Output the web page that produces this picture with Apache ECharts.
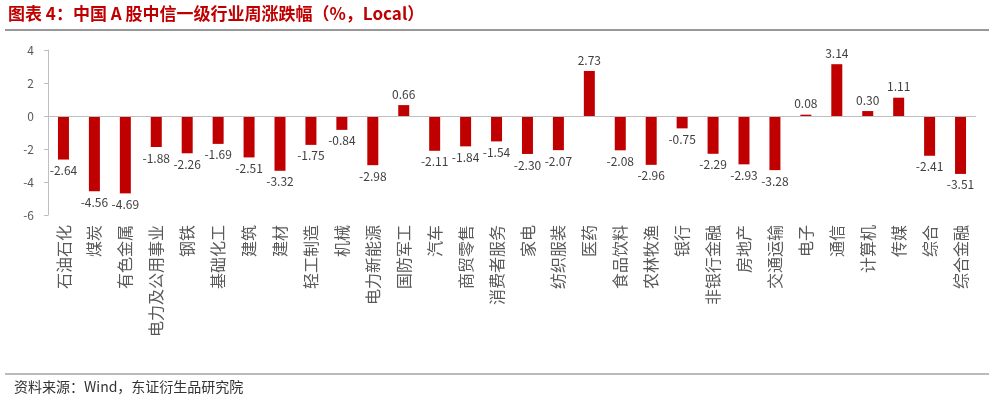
<!DOCTYPE html>
<html><head><meta charset="utf-8">
<script src="https://cdn.jsdelivr.net/npm/echarts@6/dist/echarts.min.js"></script>
<style>body{margin:0;background:#fff}#c{width:994px;height:405px}</style>
</head><body><div id="c"></div>
<script>
const categories = ["石油石化","煤炭","有色金属","电力及公用事业","钢铁","基础化工","建筑","建材","轻工制造","机械","电力新能源","国防军工","汽车","商贸零售","消费者服务","家电","纺织服装","医药","食品饮料","农林牧渔","银行","非银行金融","房地产","交通运输","电子","通信","计算机","传媒","综合","综合金融"];
const values = [-2.64,-4.56,-4.69,-1.88,-2.26,-1.69,-2.51,-3.32,-1.75,-0.84,-2.98,0.66,-2.11,-1.84,-1.54,-2.30,-2.07,2.73,-2.08,-2.96,-0.75,-2.29,-2.93,-3.28,0.08,3.14,0.30,1.11,-2.41,-3.51];
const yTicks = [-6,-4,-2,0,2,4];
const F = '"Noto Sans CJK SC", serif';
const chart = echarts.init(document.getElementById('c'));
chart.setOption({
  animation:false,
  graphic:[
    {type:'text',left:8,top:5,style:{text:'图表 4：中国 A 股中信一级行业周涨跌幅（%，Local）',fill:'#C00000',font:'bold 17px '+F}},
    {type:'line',shape:{x1:5,y1:30,x2:989,y2:30},style:{stroke:'#777',lineWidth:1.5}},
    {type:'line',shape:{x1:5,y1:374,x2:989,y2:374},style:{stroke:'#777',lineWidth:1}},
    {type:'text',left:14,top:380,style:{text:'资料来源：Wind，东证衍生品研究院',fill:'#333',font:'14px '+F}}
  ],
  grid:{left:48,right:18,top:50,bottom:190},
  xAxis:{type:'category',data:categories,position:'bottom',
    axisLine:{show:false},axisTick:{show:false},
    axisLabel:{rotate:90,interval:0,color:'#595959',fontSize:16,fontFamily:F,margin:10}},
  yAxis:{type:'value',min:-6,max:4,interval:2,
    axisLine:{show:true,lineStyle:{color:'#bfbfbf'}},axisTick:{show:true,length:4,lineStyle:{color:'#bfbfbf'}},
    splitLine:{show:false},axisLabel:{color:'#595959',fontSize:12,fontFamily:F,margin:14}},
  series:[{type:'bar',data:values.map(v=>({value:v,label:{position:v>=0?'top':'bottom'}})),
    barWidth:11,itemStyle:{color:'#C00000'},
    label:{show:true,color:'#404040',fontSize:12,fontFamily:F,formatter:p=>p.value.toFixed(2)},
    markLine:{silent:true,symbol:'none',label:{show:false},lineStyle:{color:'#bfbfbf',type:'solid',width:1},data:[{yAxis:0}]}
  }]
});
</script></body></html>
